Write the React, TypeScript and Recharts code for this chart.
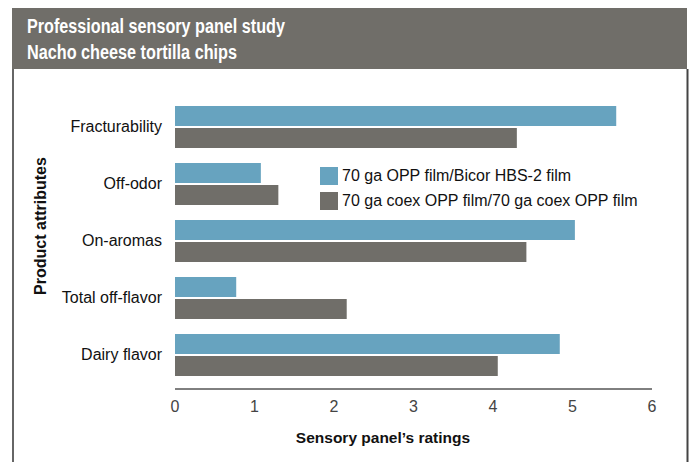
import React from 'react';
import { BarChart, Bar, XAxis, YAxis, Legend, Label } from 'recharts';

const categories = ['Fracturability', 'Off-odor', 'On-aromas', 'Total off-flavor', 'Dairy flavor'];
const bicorRatings = [5.55, 1.08, 5.03, 0.77, 4.84];
const coexRatings = [4.3, 1.3, 4.42, 2.16, 4.06];
const seriesNames = ['70 ga OPP film/Bicor HBS-2 film', '70 ga coex OPP film/70 ga coex OPP film'];
const xTicks = [0, 1, 2, 3, 4, 5, 6];

const BLUE = '#67a3bf';
const GRAY = '#706e69';
const FONT = '"Liberation Sans", Arial, Helvetica, sans-serif';

const data = categories.map((attribute, i) => ({
  attribute,
  bicor: bicorRatings[i],
  coex: coexRatings[i],
}));

const LegendBox = ({ payload }: any) => (
  <div style={{ fontFamily: FONT, fontSize: 16, color: '#111' }}>
    {(payload || []).map((item: any) => (
      <div key={item.value} style={{ display: 'flex', alignItems: 'center', height: 25 }}>
        <span style={{ width: 18, height: 18, background: item.color, marginRight: 4, display: 'inline-block' }} />
        <span>{item.value}</span>
      </div>
    ))}
  </div>
);

const App: React.FC = () => {
  return (
    <div style={{ position: 'absolute', left: 0, top: 0, width: 689, height: 462, background: '#fff', overflow: 'hidden' }}>
      {/* header band and frame */}
      <svg width={689} height={462} style={{ position: 'absolute', left: 0, top: 0 }}>
        <rect x={12} y={8} width={675} height={61} fill={GRAY} />
        <line x1={13} y1={69} x2={13} y2={462} stroke="#333" strokeWidth={1.5} />
        <line x1={687.5} y1={69} x2={687.5} y2={462} stroke="#444" strokeWidth={2} />
        <text x={27} y={33} fill="#fff" fontFamily={FONT} fontWeight="bold" fontSize={19.5}
          textLength={258} lengthAdjust="spacingAndGlyphs">
          Professional sensory panel study
        </text>
        <text x={27} y={59} fill="#fff" fontFamily={FONT} fontWeight="bold" fontSize={19.5}
          textLength={210} lengthAdjust="spacingAndGlyphs">
          Nacho cheese tortilla chips
        </text>
      </svg>
      <div style={{ position: 'absolute', left: 0, top: 0 }}>
        <BarChart
          width={689}
          height={462}
          data={data}
          layout="vertical"
          margin={{ top: 98, right: 37, bottom: 43, left: 0 }}
          barSize={20}
          barGap={2}
          barCategoryGap={7.5}
        >
          <XAxis
            type="number"
            domain={[0, 6]}
            ticks={xTicks}
            interval={0}
            height={30}
            tickLine={false}
            tickSize={0}
            tickMargin={12}
            axisLine={{ stroke: '#000', strokeWidth: 1 }}
            tick={{ fill: '#444', fontSize: 16, fontFamily: FONT }}
          >
            <Label
              content={({ viewBox }: any) => (
                <text x={383} y={viewBox.y + 54} textAnchor="middle" fill="#111"
                  fontFamily={FONT} fontWeight="bold" fontSize={15.5}>
                  Sensory panel’s ratings
                </text>
              )}
            />
          </XAxis>
          <YAxis
            type="category"
            dataKey="attribute"
            width={175}
            padding={{ top: 0, bottom: 6 }}
            tickLine={false}
            axisLine={false}
            tickSize={0}
            tickMargin={13}
            tick={{ fill: '#111', fontSize: 16, fontFamily: FONT }}
          >
            <Label
              content={() => (
                <text x={0} y={0} transform="translate(46 226) rotate(-90)" textAnchor="middle"
                  fill="#111" fontFamily={FONT} fontWeight="bold" fontSize={16}>
                  Product attributes
                </text>
              )}
            />
          </YAxis>
          <Legend
            layout="vertical"
            verticalAlign="middle"
            align="center"
            content={<LegendBox />}
            wrapperStyle={{ position: 'absolute', left: 320, top: 163, width: 340 }}
          />
          <Bar dataKey="bicor" name={seriesNames[0]} fill={BLUE} isAnimationActive={false} />
          <Bar dataKey="coex" name={seriesNames[1]} fill={GRAY} isAnimationActive={false} />
        </BarChart>
      </div>
    </div>
  );
};

export default App;
